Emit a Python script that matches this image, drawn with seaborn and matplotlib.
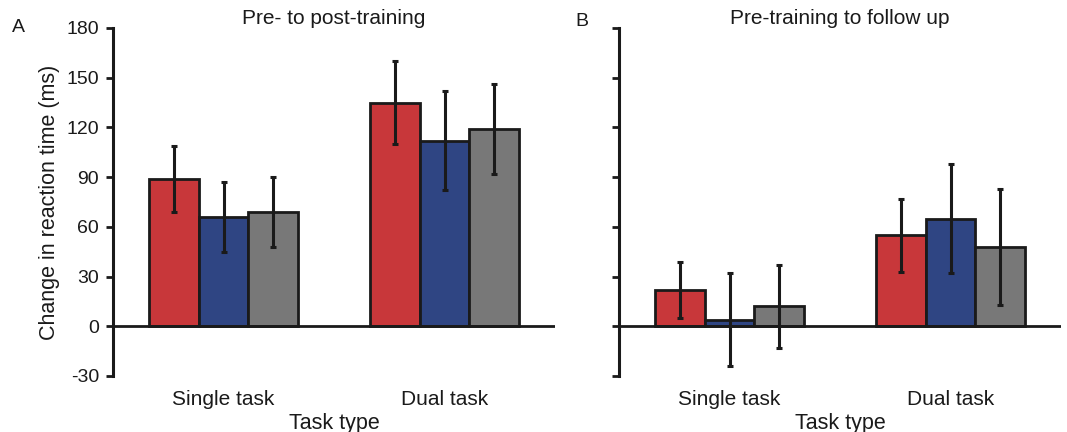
import matplotlib
matplotlib.use("Agg")
import matplotlib.pyplot as plt
import seaborn as sns
import pandas as pd

# Task conditions (x categories) and groups (hue)
tasks = ["Single task", "Dual task"]
groups = ["Group 1", "Group 2", "Group 3"]
palette = ["#C8373A", "#2F4583", "#787878"]

# Panel A: pre- to post-training change (ms), mean and error per group
post_means = {"Group 1": [89, 135], "Group 2": [66, 112], "Group 3": [69, 119]}
post_errs = {"Group 1": [20, 25], "Group 2": [21, 30], "Group 3": [21, 27]}

# Panel B: pre-training to follow-up change (ms)
follow_means = {"Group 1": [22, 55], "Group 2": [4, 65], "Group 3": [12, 48]}
follow_errs = {"Group 1": [17, 22], "Group 2": [28, 33], "Group 3": [25, 35]}

y_ticks = [-30, 0, 30, 60, 90, 120, 150, 180]

sns.set_style("ticks")
plt.rcParams["font.family"] = ["Liberation Sans", "DejaVu Sans"]
plt.rcParams["text.color"] = "#1a1a1a"
plt.rcParams["axes.labelcolor"] = "#1a1a1a"
plt.rcParams["xtick.color"] = "#1a1a1a"
plt.rcParams["ytick.color"] = "#1a1a1a"

W, H = 1067, 432
fig = plt.figure(figsize=(W / 100, H / 100), dpi=100)
ax_a = fig.add_axes([113 / W, 1 - 376 / H, 442 / W, 348 / H])
ax_b = fig.add_axes([619 / W, 1 - 376 / H, 442 / W, 348 / H])


def to_frame(means, errs):
    rows = []
    for g in groups:
        for t, m, e in zip(tasks, means[g], errs[g]):
            rows.append({"Task type": t, "Group": g, "Change": m, "Err": e})
    return pd.DataFrame(rows)


def draw_panel(ax, means, errs, title, show_labels):
    df = to_frame(means, errs)
    sns.barplot(data=df, x="Task type", y="Change", hue="Group",
                order=tasks, hue_order=groups, palette=palette,
                errorbar=None, width=0.67, saturation=1,
                edgecolor="#1a1a1a", linewidth=2, legend=False, ax=ax)
    # error bars at the centre of each bar, one container per group
    for g, cont in zip(groups, ax.containers):
        sub = df[df["Group"] == g].set_index("Task type").loc[tasks]
        xs = [b.get_x() + b.get_width() / 2 for b in cont]
        ax.errorbar(xs, sub["Change"], yerr=sub["Err"], fmt="none",
                    ecolor="#1a1a1a", elinewidth=2.2, capsize=2.2,
                    capthick=2.2, zorder=5)
    ax.axhline(0, color="#1a1a1a", lw=2, zorder=6)
    ax.set_xlim(-0.5, 1.5)
    ax.set_ylim(-30, 180)
    ax.set_yticks(y_ticks)
    if show_labels:
        ax.set_yticklabels([str(v) for v in y_ticks])
        ax.set_ylabel("Change in reaction time (ms)", fontsize=15.5,
                      labelpad=4.5)
    else:
        ax.set_yticklabels([])
        ax.set_ylabel("")
    for s in ["top", "right", "bottom"]:
        ax.spines[s].set_visible(False)
    ax.spines["left"].set_linewidth(2.2)
    ax.spines["left"].set_color("#1a1a1a")
    ax.tick_params(axis="y", direction="out", length=5, width=2,
                   pad=5, labelsize=14)
    ax.tick_params(axis="x", length=0, pad=10, labelsize=15)
    ax.set_xlabel("Task type", fontsize=15.5, labelpad=3)
    ax.set_title(title, fontsize=15, pad=-1.5)


draw_panel(ax_a, post_means, post_errs, "Pre- to post-training", True)
draw_panel(ax_b, follow_means, follow_errs, "Pre-training to follow up", False)

fig.text(18 / W, 1 - 27 / H, "A", fontsize=14, va="center", ha="center")
fig.text(582 / W, 1 - 22 / H, "B", fontsize=14, va="center", ha="center")

fig.savefig("out.png", dpi=100, facecolor="white")
